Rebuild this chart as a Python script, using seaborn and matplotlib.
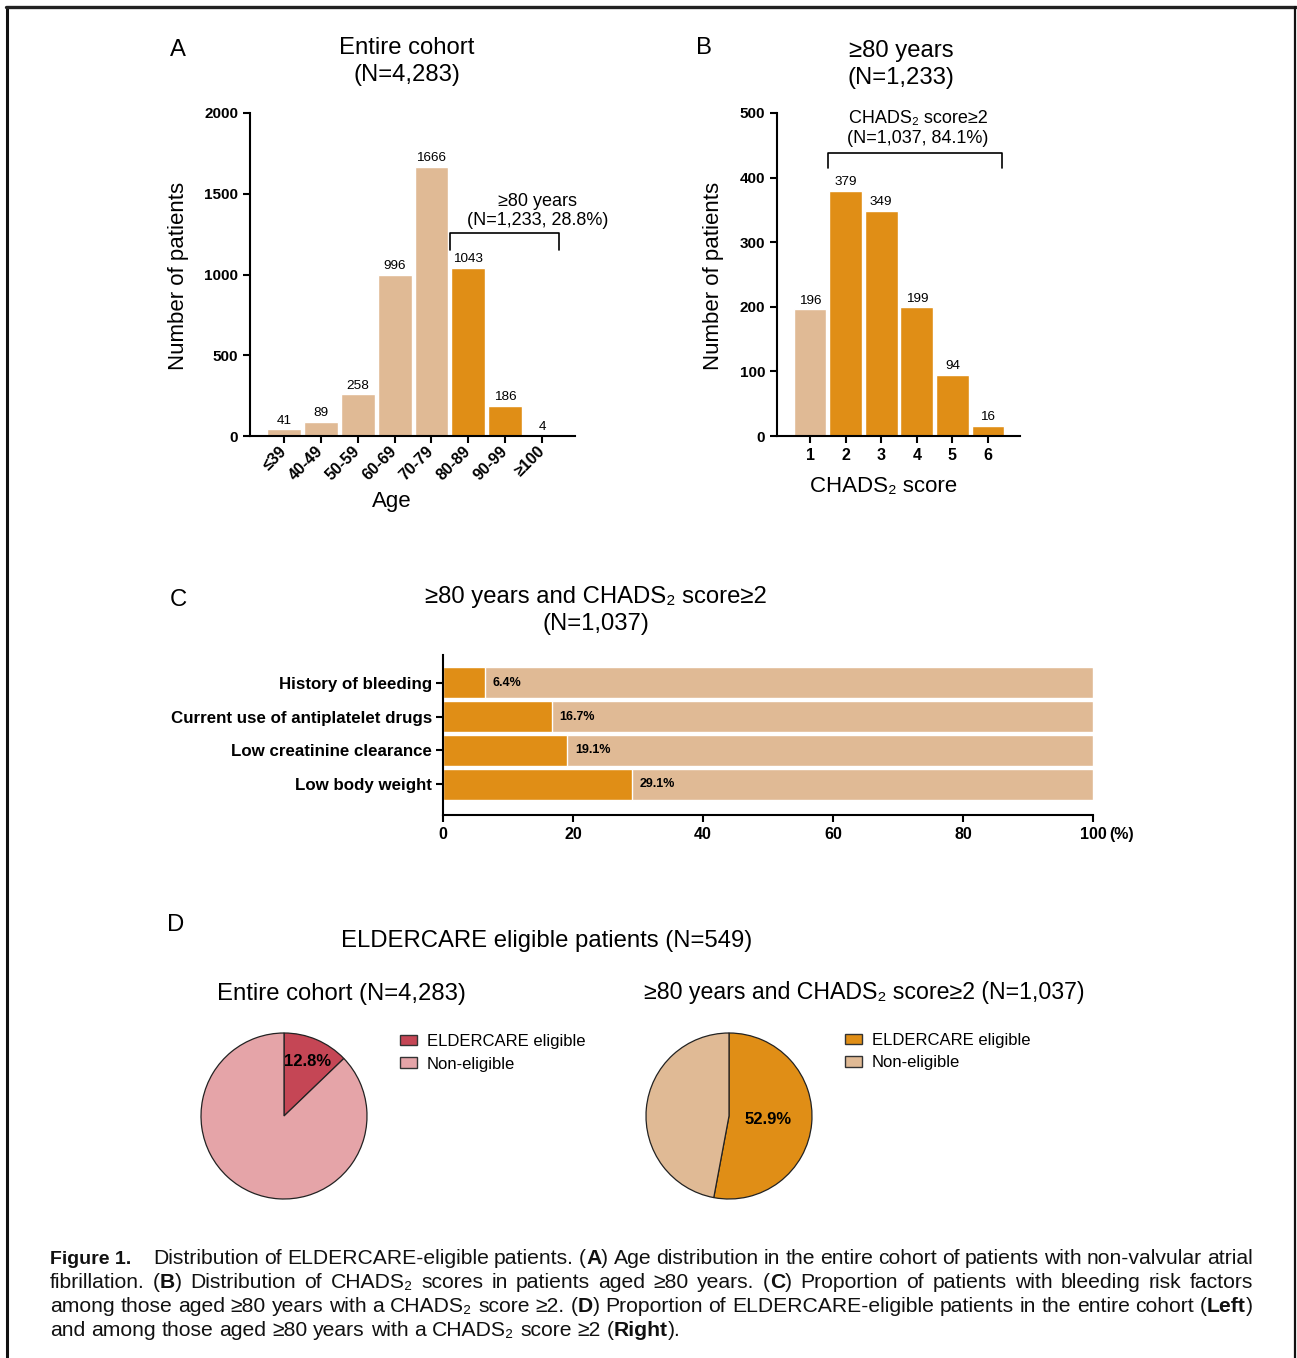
import matplotlib
matplotlib.use("Agg")
import matplotlib.pyplot as plt
from matplotlib.lines import Line2D
from matplotlib.patches import Patch
from matplotlib import font_manager
import seaborn as sns
import pandas as pd

# ---------------- data ----------------
age_groups = ["≤39", "40-49", "50-59", "60-69", "70-79", "80-89", "90-99", "≥100"]
age_counts = [41, 89, 258, 996, 1666, 1043, 186, 4]
age_band = ["<80", "<80", "<80", "<80", "<80", "≥80", "≥80", "≥80"]

chads_scores = ["1", "2", "3", "4", "5", "6"]
chads_counts = [196, 379, 349, 199, 94, 16]
chads_band = ["<2", "≥2", "≥2", "≥2", "≥2", "≥2"]

risk_factors = ["History of bleeding", "Current use of antiplatelet drugs",
                "Low creatinine clearance", "Low body weight"]
risk_pct = [6.4, 16.7, 19.1, 29.1]

pie_labels = ["ELDERCARE eligible", "Non-eligible"]
eligible_n = 549
cohort_total = 4283
elderly_high_total = 1037

x_ticks_pct = [0, 20, 40, 60, 80, 100]

# ---------------- style ----------------
LIGHT = "#E0BA95"
ORANGE = "#E08E16"
DARK_RED = "#C54655"
PINK = "#E5A4A8"

sns.set_theme(style="ticks")
plt.rcParams["font.family"] = ["Liberation Sans", "DejaVu Sans"]
plt.rcParams["text.color"] = "black"
plt.rcParams["axes.linewidth"] = 1.5
plt.rcParams["xtick.major.width"] = 1.5
plt.rcParams["ytick.major.width"] = 1.5
plt.rcParams["xtick.major.size"] = 5
plt.rcParams["ytick.major.size"] = 5
plt.rcParams["xtick.color"] = "black"
plt.rcParams["ytick.color"] = "black"
plt.rcParams["xtick.labelcolor"] = "black"
plt.rcParams["ytick.labelcolor"] = "black"
plt.rcParams["axes.edgecolor"] = "black"

try:
    font_manager.findfont("Liberation Sans Narrow", fallback_to_default=False)
    NARROW = ["Liberation Sans Narrow", "DejaVu Sans"]
except ValueError:
    NARROW = ["Liberation Sans", "DejaVu Sans"]

W, H = 1297, 1358
fig = plt.figure(figsize=(W / 100, H / 100), dpi=100)
fig.patch.set_facecolor("white")


def fx(x):
    return x / W


def fy(y):
    return 1 - y / H


def ax_box(x0, y0, x1, y1):
    return fig.add_axes([fx(x0), fy(y1), (x1 - x0) / W, (y1 - y0) / H])


def ftext(x, y, s, **kw):
    kw.setdefault("ha", "center")
    kw.setdefault("va", "center")
    kw.setdefault("color", "black")
    return fig.text(fx(x), fy(y), s, **kw)


# frame around the figure (left, top, right)
fig.add_artist(Line2D([fx(7), fx(7)], [fy(7), 0], transform=fig.transFigure, color="#111", lw=2.2))
fig.add_artist(Line2D([fx(6), fx(1296)], [fy(7), fy(7)], transform=fig.transFigure, color="#222", lw=2.4))
fig.add_artist(Line2D([fx(1295), fx(1295)], [fy(7), 0], transform=fig.transFigure, color="#111", lw=1.6))

TITLE_FS = 17.2
LAB_FS = 16

# ---------------- panel A ----------------
axA = ax_box(250, 113, 575, 436)
dfA = pd.DataFrame({"age": age_groups, "n": age_counts, "band": age_band})
sns.barplot(data=dfA, x="age", y="n", hue="band", order=age_groups,
            palette={"<80": LIGHT, "≥80": ORANGE}, dodge=False, width=0.92,
            edgecolor="white", linewidth=1, saturation=1, legend=False, ax=axA)
for c in axA.containers:
    axA.bar_label(c, fmt="%d", padding=2, fontsize=9.7, color="black")
axA.set(xlabel="", ylabel="", ylim=(0, 2000), xlim=(-0.92, 7.89))
axA.set_yticks([0, 500, 1000, 1500, 2000])
axA.set_yticklabels(["0", "500", "1000", "1500", "2000"], fontweight="bold", fontsize=11)
axA.set_xticks(range(len(age_groups)))
axA.set_xticklabels(age_groups, rotation=45, ha="right", va="center",
                    rotation_mode="anchor", fontweight="bold", fontsize=11.5)
axA.tick_params(axis="x", pad=4)
sns.despine(ax=axA)
# bracket over the 80+ age groups
axA.plot([4.5, 4.5, 7.45, 7.45], [1152, 1257, 1257, 1152], color="black", lw=1.2, clip_on=False)
axA.text(6.88, 1455, "≥80 years", ha="center", va="center", fontsize=13)
axA.text(6.88, 1337, "(N=1,233, 28.8%)", ha="center", va="center", fontsize=13)

ftext(178, 50, "A", fontsize=TITLE_FS)
ftext(407, 48, "Entire cohort", fontsize=TITLE_FS)
ftext(407, 75, "(N=4,283)", fontsize=TITLE_FS)
ftext(178, 276, "Number of patients", fontsize=LAB_FS, rotation=90)
ftext(392, 502, "Age", fontsize=LAB_FS)

# ---------------- panel B ----------------
axB = ax_box(777, 113, 1020, 436)
dfB = pd.DataFrame({"score": chads_scores, "n": chads_counts, "band": chads_band})
sns.barplot(data=dfB, x="score", y="n", hue="band", order=chads_scores,
            palette={"<2": LIGHT, "≥2": ORANGE}, dodge=False, width=0.92,
            edgecolor="white", linewidth=1, saturation=1, legend=False, ax=axB)
for c in axB.containers:
    axB.bar_label(c, fmt="%d", padding=2, fontsize=9.7, color="black")
axB.set(xlabel="", ylabel="", ylim=(0, 500), xlim=(-0.93, 5.9))
axB.set_yticks([0, 100, 200, 300, 400, 500])
axB.set_yticklabels(["0", "100", "200", "300", "400", "500"], fontweight="bold", fontsize=11)
axB.set_xticks(range(len(chads_scores)))
axB.set_xticklabels(chads_scores, fontweight="bold", fontsize=11.5)
sns.despine(ax=axB)
# bracket over scores 2-6
axB.plot([0.5, 0.5, 5.39, 5.39], [415, 438, 438, 415], color="black", lw=1.2, clip_on=False)
axB.text(3.03, 491, "CHADS₂ score≥2", ha="center", va="center", fontsize=13)
axB.text(3.03, 461, "(N=1,037, 84.1%)", ha="center", va="center", fontsize=13)

ftext(704, 48, "B", fontsize=TITLE_FS)
ftext(901, 51, "≥80 years", fontsize=TITLE_FS)
ftext(901, 78, "(N=1,233)", fontsize=TITLE_FS)
ftext(713, 276, "Number of patients", fontsize=LAB_FS, rotation=90)
ftext(884, 486, "CHADS₂ score", fontsize=LAB_FS)

# ---------------- panel C ----------------
axC = ax_box(443, 655, 1093, 815)
dfC = pd.DataFrame({"factor": risk_factors, "pct": risk_pct,
                    "total": [100] * len(risk_factors)})
sns.barplot(data=dfC, x="total", y="factor", order=risk_factors, orient="h",
            color=LIGHT, saturation=1, width=0.92, edgecolor="white", linewidth=1, ax=axC)
sns.barplot(data=dfC, x="pct", y="factor", order=risk_factors, orient="h",
            color=ORANGE, saturation=1, width=0.92, edgecolor="white", linewidth=1, ax=axC)
for i, p in enumerate(risk_pct):
    axC.annotate(f"{p}%", xy=(p, i), xytext=(5.5, 0), textcoords="offset points",
                 ha="left", va="center", fontsize=9, fontweight="bold", color="black")
axC.set(xlabel="", ylabel="", xlim=(0, 100), ylim=(3.92, -0.83))
axC.set_xticks(x_ticks_pct)
axC.set_xticklabels([str(t) for t in x_ticks_pct], fontweight="bold", fontsize=11.5)
axC.set_yticks(range(len(risk_factors)))
axC.set_yticklabels(risk_factors, fontweight="bold", fontsize=12.2)
axC.tick_params(axis="y", pad=3)
axC.annotate("(%)", xy=(100, 0), xycoords=axC.get_xaxis_transform(),
             xytext=(12, -8.5), textcoords="offset points", ha="left", va="top",
             fontsize=11.5, fontweight="bold")
sns.despine(ax=axC)

ftext(178, 600, "C", fontsize=TITLE_FS)
ftext(596, 597, "≥80 years and CHADS₂ score≥2", fontsize=TITLE_FS)
ftext(596, 624, "(N=1,037)", fontsize=TITLE_FS)

# ---------------- panel D ----------------
ftext(176, 925, "D", fontsize=TITLE_FS)
ftext(547, 941, "ELDERCARE eligible patients (N=549)", fontsize=TITLE_FS)
ftext(341, 994, "Entire cohort (N=4,283)", fontsize=TITLE_FS)
ftext(864, 992, "≥80 years and CHADS₂ score≥2 (N=1,037)", fontsize=TITLE_FS - 0.5)

R = 83
LIM = 1.03


def draw_pie(cx, cy, counts, colors, pctdist, legend_xy):
    half = R * LIM
    ax = ax_box(cx - half, cy - half, cx + half, cy + half)
    _, _, autotexts = ax.pie(counts, colors=colors, startangle=90, counterclock=False,
                             autopct="%.1f%%", pctdistance=pctdist,
                             wedgeprops=dict(edgecolor="#222", linewidth=0.9))
    autotexts[1].set_visible(False)
    autotexts[0].set_fontsize(12)
    autotexts[0].set_fontweight("bold")
    autotexts[0].set_color("black")
    ax.set_xlim(-LIM, LIM)
    ax.set_ylim(-LIM, LIM)
    ax.set_aspect("equal")
    handles = [Patch(facecolor=c, edgecolor="#333", linewidth=1) for c in colors]
    fig.legend(handles, pie_labels, loc="upper left",
               bbox_to_anchor=(fx(legend_xy[0]), fy(legend_xy[1])),
               frameon=False, fontsize=12, handlelength=1.0, handleheight=0.6,
               handletextpad=0.6, labelspacing=0.45, borderpad=0, borderaxespad=0)


draw_pie(284, 1116, [eligible_n, cohort_total - eligible_n], [DARK_RED, PINK], 0.71, (400, 1034))
draw_pie(729, 1116, [eligible_n, elderly_high_total - eligible_n], [ORANGE, LIGHT], 0.47, (845, 1033))

# ---------------- caption ----------------
CAP_FS = 15.2
caption_lines = [
    "Distribution of ELDERCARE-eligible patients. (**A**) Age distribution in the entire cohort of patients with non-valvular atrial",
    "fibrillation. (**B**) Distribution of CHADS₂ scores in patients aged ≥80 years. (**C**) Proportion of patients with bleeding risk factors",
    "among those aged ≥80 years with a CHADS₂ score ≥2. (**D**) Proportion of ELDERCARE-eligible patients in the entire cohort (**Left**)",
    "and among those aged ≥80 years with a CHADS₂ score ≥2 (**Right**).",
]
baselines = [1264, 1288, 1312, 1336]
renderer = fig.canvas.get_renderer()


def run_width(s, bold, family=None, size=CAP_FS):
    kw = dict(fontsize=size, fontweight="bold" if bold else "normal")
    if family:
        kw["family"] = family
    t = fig.text(0, 0, s, **kw)
    w = t.get_window_extent(renderer).width
    t.remove()
    return w


def put_run(x, y, s, bold, family=None, size=CAP_FS):
    kw = dict(fontsize=size, fontweight="bold" if bold else "normal",
              ha="left", va="baseline", color="#111")
    if family:
        kw["family"] = family
    fig.text(fx(x), fy(y), s, **kw)


space_w = run_width("a a", False) - run_width("aa", False)
LEFT, RIGHT = 50, 1253
FIG_LABEL_FS = 14

for li, (line, base) in enumerate(zip(caption_lines, baselines)):
    x_start = LEFT
    if li == 0:
        put_run(LEFT, base, "Figure 1.", True, NARROW, FIG_LABEL_FS)
        x_start = LEFT + run_width("Figure 1.", True, NARROW, FIG_LABEL_FS) + 22
    words = []
    for w in line.split(" "):
        parts = w.split("**")
        runs = [(p, k % 2 == 1) for k, p in enumerate(parts) if p]
        widths = [run_width(p, b) for p, b in runs]
        words.append((runs, widths))
    total = sum(sum(ws) for _, ws in words)
    if li < len(caption_lines) - 1:
        gap = (RIGHT - x_start - total) / (len(words) - 1)
    else:
        gap = space_w
    x = x_start
    for runs, widths in words:
        for (p, b), wd in zip(runs, widths):
            put_run(x, base, p, b)
            x += wd
        x += gap

fig.savefig("out.png", dpi=100, facecolor="white")
